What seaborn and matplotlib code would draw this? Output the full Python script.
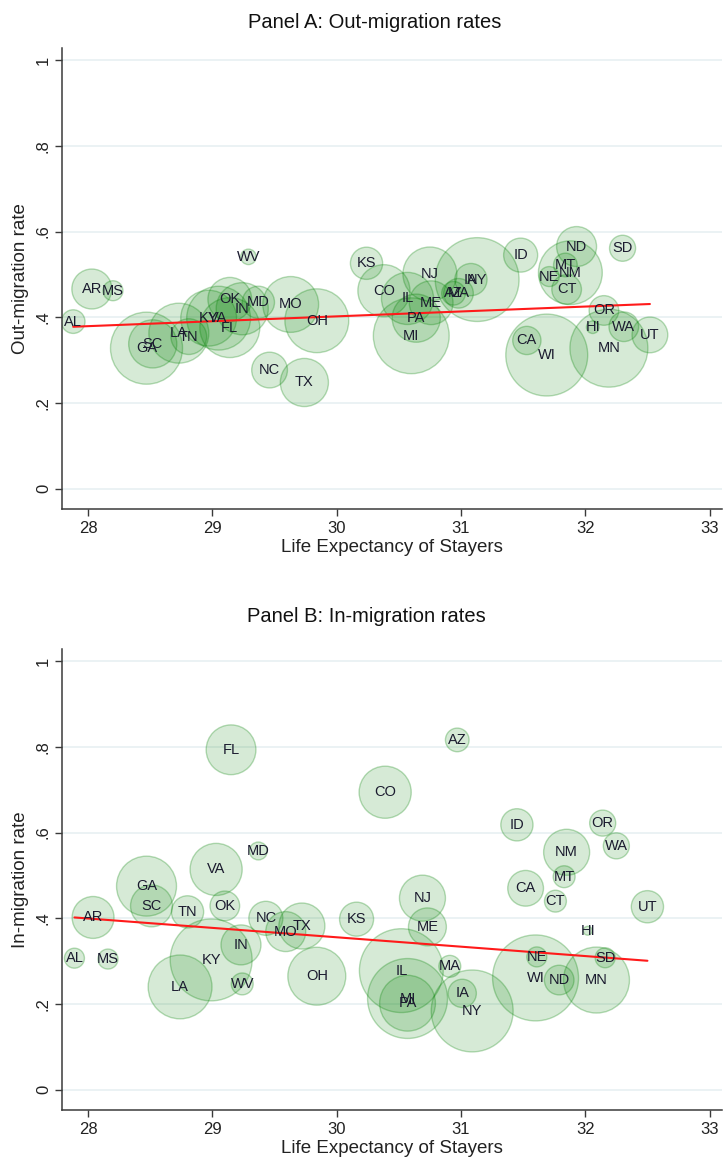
import matplotlib
matplotlib.use("Agg")
import matplotlib.pyplot as plt
import numpy as np
import pandas as pd
import seaborn as sns

# State abbreviations (same order in every array below)
states = ["AL", "AR", "MS", "GA", "SC", "LA", "TN", "KY", "VA", "FL", "OK", "IN",
          "MD", "WV", "NC", "MO", "TX", "OH", "KS", "CO", "IL", "NJ", "ME", "PA",
          "MI", "AZ", "MA", "IA", "NY", "ID", "NE", "NM", "MT", "CT", "ND", "SD",
          "OR", "HI", "WA", "UT", "CA", "WI", "MN"]

# Panel A: out-migration
le_out = [27.88, 28.03, 28.20, 28.47, 28.52, 28.73, 28.81, 28.97, 29.05, 29.14, 29.14, 29.24,
          29.37, 29.29, 29.46, 29.63, 29.74, 29.84, 30.24, 30.38, 30.57, 30.75, 30.76, 30.64,
          30.60, 30.94, 30.98, 31.08, 31.13, 31.48, 31.71, 31.88, 31.84, 31.85, 31.93, 32.30,
          32.15, 32.06, 32.31, 32.52, 31.53, 31.69, 32.19]
out_rate = [0.390, 0.466, 0.462, 0.328, 0.338, 0.363, 0.355, 0.398, 0.398, 0.376, 0.442, 0.420,
            0.435, 0.541, 0.277, 0.430, 0.248, 0.392, 0.526, 0.462, 0.444, 0.501, 0.434, 0.398,
            0.357, 0.456, 0.456, 0.488, 0.488, 0.545, 0.495, 0.504, 0.522, 0.465, 0.565, 0.561,
            0.416, 0.377, 0.378, 0.359, 0.346, 0.312, 0.328]
out_weight = [14, 40, 10, 130, 58, 90, 32, 78, 102, 90, 48, 68,
              26, 6, 32, 78, 58, 102, 26, 68, 68, 73, 48, 58,
              144, 14, 22, 26, 176, 29, 10, 102, 14, 22, 40, 17,
              22, 4, 22, 32, 20, 168, 152]
out_fit = [0.378, 0.431]   # fitted rate at the lowest and highest life expectancy

# Panel B: in-migration
le_in = [27.89, 28.04, 28.16, 28.47, 28.51, 28.74, 28.80, 28.99, 29.03, 29.15, 29.10, 29.23,
         29.37, 29.24, 29.43, 29.59, 29.72, 29.84, 30.16, 30.39, 30.52, 30.69, 30.73, 30.57,
         30.57, 30.97, 30.91, 31.01, 31.09, 31.45, 31.61, 31.85, 31.83, 31.76, 31.79, 32.16,
         32.14, 32.02, 32.25, 32.50, 31.52, 31.60, 32.09]
in_rate = [0.307, 0.402, 0.305, 0.475, 0.429, 0.240, 0.415, 0.303, 0.514, 0.793, 0.429, 0.338,
           0.557, 0.247, 0.400, 0.369, 0.382, 0.265, 0.398, 0.694, 0.278, 0.447, 0.380, 0.202,
           0.213, 0.816, 0.288, 0.225, 0.184, 0.618, 0.310, 0.554, 0.497, 0.440, 0.256, 0.308,
           0.622, 0.371, 0.569, 0.427, 0.470, 0.261, 0.256]
in_weight = [10, 44, 10, 90, 44, 102, 26, 168, 68, 62, 22, 40,
             8, 12, 29, 40, 53, 84, 29, 68, 176, 53, 36, 78,
             160, 14, 12, 20, 168, 26, 10, 53, 12, 12, 22, 10,
             17, 2, 17, 26, 32, 185, 109]
in_fit = [0.402, 0.301]

y_ticks = [0, 0.2, 0.4, 0.6, 0.8, 1.0]
y_ticklabels = ["0", ".2", ".4", ".6", ".8", "1"]
x_ticks = [28, 29, 30, 31, 32, 33]

sns.set_style("white")
plt.rcParams["font.family"] = ["Liberation Sans", "DejaVu Sans"]

W, H = 723, 1159
fig = plt.figure(figsize=(W / 100, H / 100), dpi=100)

AREA_PER_WEIGHT = 20.7   # points^2 of bubble area per unit of weight
TEXT_DARK = "#1b1b2f"
AXIS_COL = "#3a3a3a"


def panel(ax_rect, le, rate, weight, fit, title, title_x, title_y, ylabel):
    ax = fig.add_axes(ax_rect)
    df = pd.DataFrame({"le": le, "rate": rate, "w": weight, "state": states})
    ax.set_axisbelow(True)
    for t in y_ticks:
        ax.axhline(t, color="#e6eff1", lw=1.1, zorder=0)
    wmin, wmax = df["w"].min(), df["w"].max()
    sns.scatterplot(data=df, x="le", y="rate", size="w",
                    sizes=(wmin * AREA_PER_WEIGHT, wmax * AREA_PER_WEIGHT),
                    size_norm=(wmin, wmax), legend=False, ax=ax,
                    color=(0.0, 0.5, 0.0, 0.16), edgecolor=(0.0, 0.5, 0.0, 0.28),
                    linewidth=1.0, zorder=2)
    for _, r in df.iterrows():
        ax.text(r["le"], r["rate"], r["state"], ha="center", va="center",
                fontsize=10.5, color=TEXT_DARK, zorder=4)
    xs = [min(le), max(le)]
    sns.lineplot(x=xs, y=fit, color="#ff1a1a", lw=1.5, ax=ax, zorder=3)
    ax.set_xlim(27.79, 33.10)
    ax.set_ylim(-0.047, 1.028)
    ax.set_xticks(x_ticks)
    ax.set_xticklabels([str(v) for v in x_ticks], fontsize=12, color="#222222")
    ax.set_yticks(y_ticks)
    ax.set_yticklabels(y_ticklabels, fontsize=12, color="#222222",
                       rotation=90, va="center")
    ax.tick_params(axis="both", direction="out", length=5, width=1, color=AXIS_COL,
                   left=True, bottom=True)
    ax.tick_params(axis="x", pad=4)
    ax.tick_params(axis="y", pad=3)
    for s in ["top", "right"]:
        ax.spines[s].set_visible(False)
    for s in ["left", "bottom"]:
        ax.spines[s].set_color(AXIS_COL)
        ax.spines[s].set_linewidth(1.1)
    ax.set_xlabel("Life Expectancy of Stayers", fontsize=13.5, color="#222222", labelpad=2)
    ax.set_ylabel(ylabel, fontsize=13.5, color="#222222", labelpad=5)
    fig.text(title_x / W, 1 - title_y / H, title, ha="center", va="center",
             fontsize=14.5, color="#111111")
    return ax


panel([62 / W, 1 - 509 / H, 660 / W, 461 / H], le_out, out_rate, out_weight, out_fit,
      "Panel A: Out-migration rates", 375, 22, "Out-migration rate")
panel([62 / W, 1 - 1110 / H, 660 / W, 461 / H], le_in, in_rate, in_weight, in_fit,
      "Panel B: In-migration rates", 366, 617, "In-migration rate")

fig.savefig("out.png", dpi=100)
